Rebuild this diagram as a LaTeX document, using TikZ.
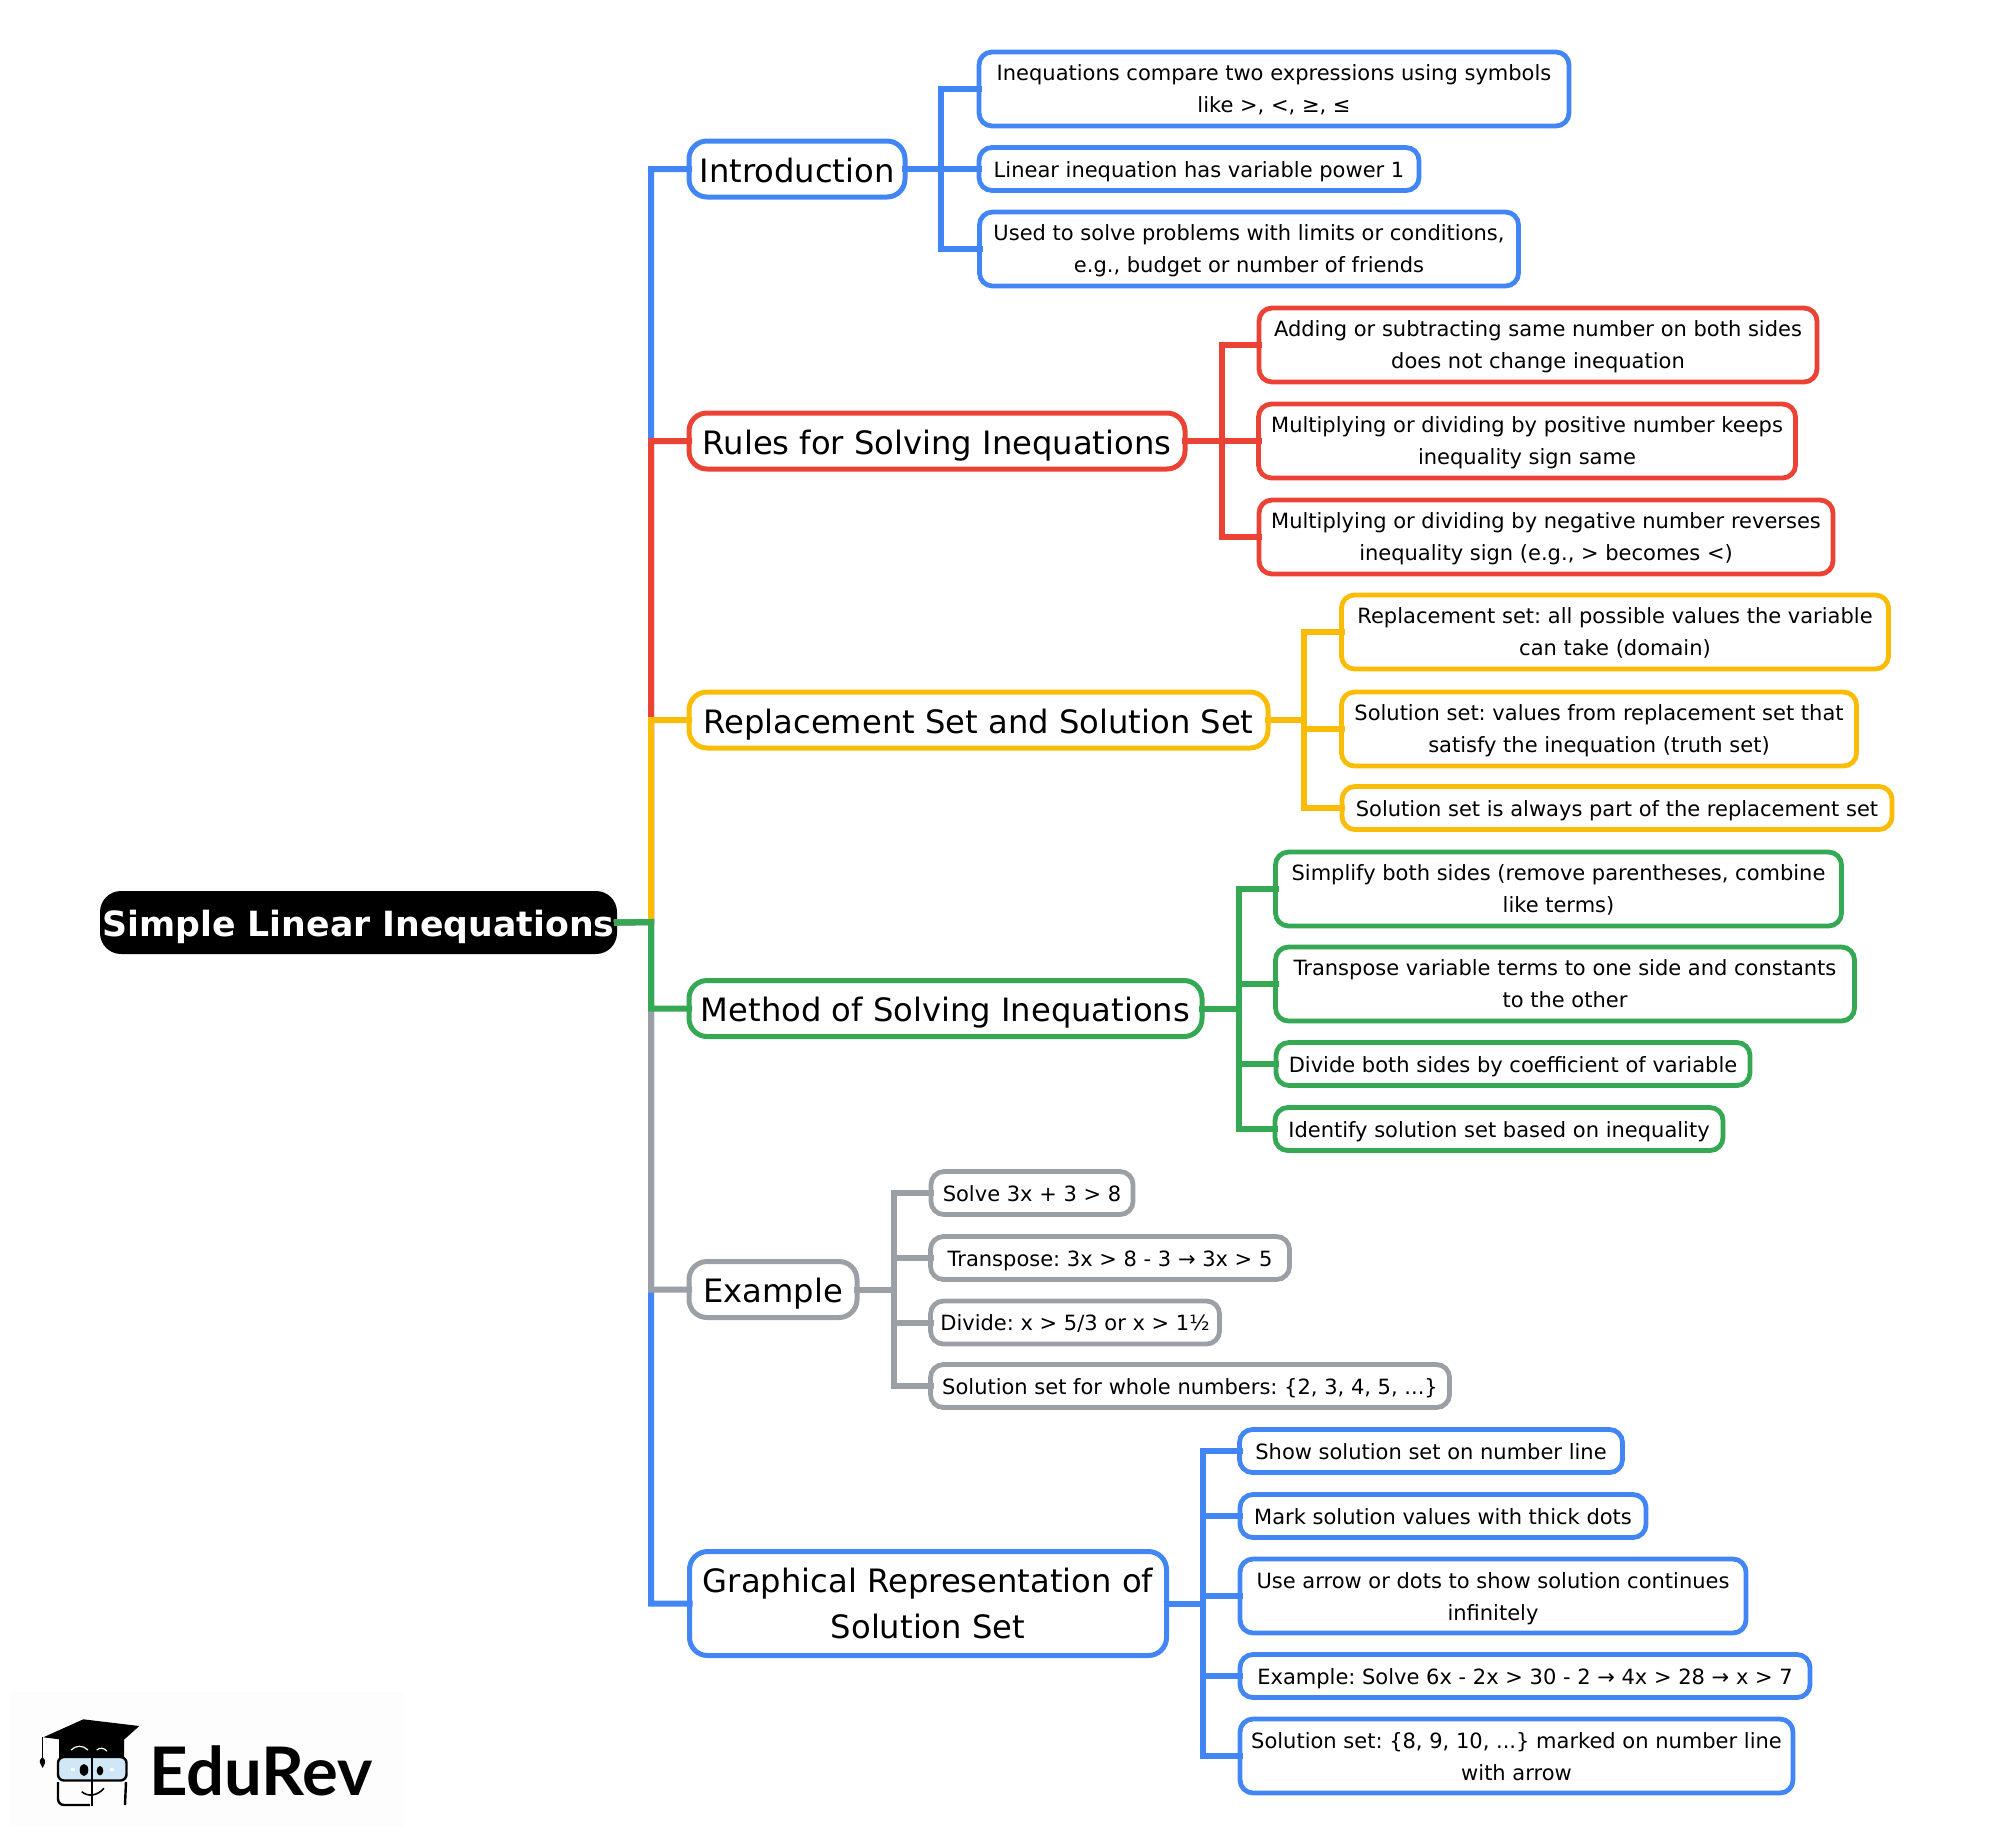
\documentclass[tikz,border=0pt]{standalone}
\usepackage{fontspec}
\setmainfont{DejaVu Sans}
\newfontfamily\logofont{Lato}
\usepackage{tikz}
\definecolor{BranchBlue}{HTML}{4285F4}
\definecolor{BranchRed}{HTML}{EA4335}
\definecolor{BranchYellow}{HTML}{FBBC05}
\definecolor{BranchGreen}{HTML}{34A853}
\definecolor{BranchGray}{HTML}{9AA0A6}
\definecolor{LogoGlass}{HTML}{CFE7F6}

\begin{document}
\frenchspacing
\begin{tikzpicture}[
x=1pt,y=-1pt,
RootBox/.style={fill=black,text=white,rounded corners=21pt,inner sep=0pt,outer sep=0pt,align=center,
  minimum width=517pt,minimum height=63pt,text height=27pt,text depth=0pt,font=\fontsize{34.7}{40}\selectfont\bfseries},
MainBase/.style={draw,fill=white,line width=5pt,rounded corners=18pt,inner sep=0pt,outer sep=0pt,align=center,
  minimum height=56pt,text depth=-2pt,font=\fontsize{32.2}{46}\selectfont},
MainBox/.style={MainBase,text depth=0pt,text height=26pt},
LeafBase/.style={draw,fill=white,line width=4.8pt,rounded corners=13pt,inner sep=0pt,outer sep=0pt,align=center,
  text depth=0pt,font=\fontsize{21}{32}\selectfont},
LeafBox/.style={LeafBase,minimum height=43pt,text height=16pt},
LeafTall/.style={LeafBase,minimum height=74pt,text depth=-2.5pt},
Wire/.style={line width=6pt,line join=miter,shorten >=-3pt,shorten <=-3pt}
]
\useasboundingbox (0,0) rectangle (1994,1845);

% centre topic and first level
\node[RootBox] (root) at (358.5,922.5) {Simple Linear Inequations};

\node[MainBox,draw=BranchBlue,minimum width=216pt] (intro) at (797,169) {Introduction};
\node[MainBox,draw=BranchRed,minimum width=496pt] (rules) at (937,441) {Rules for Solving Inequations};
\node[MainBox,draw=BranchYellow,minimum width=579pt] (repl) at (978.5,720) {Replacement Set and Solution Set};
\node[MainBox,draw=BranchGreen,minimum width=513pt] (method) at (945.5,1008.5) {Method of Solving Inequations};
\node[MainBox,draw=BranchGray,minimum width=168pt] (example) at (773,1289.5) {Example};
\node[MainBase,draw=BranchBlue,minimum width=477pt,minimum height=104pt] (graph) at (928,1603.5) {Graphical Representation of\\Solution Set};

% leaves
\node[LeafTall,draw=BranchBlue,minimum width=590pt] (introA) at (1274,89) {Inequations compare two expressions using symbols\\like >, <, ≥, ≤};
\node[LeafBox,draw=BranchBlue,minimum width=440pt] (introB) at (1199,169) {Linear inequation has variable power 1};
\node[LeafTall,draw=BranchBlue,minimum width=539pt] (introC) at (1249,249) {Used to solve problems with limits or conditions,\\e.g., budget or number of friends};

\node[LeafTall,draw=BranchRed,minimum width=558pt] (rulesA) at (1538,345) {Adding or subtracting same number on both sides\\does not change inequation};
\node[LeafTall,draw=BranchRed,minimum width=537pt] (rulesB) at (1527,441) {Multiplying or dividing by positive number keeps\\inequality sign same};
\node[LeafTall,draw=BranchRed,minimum width=574pt] (rulesC) at (1546,537) {Multiplying or dividing by negative number reverses\\inequality sign (e.g., > becomes <)};

\node[LeafTall,draw=BranchYellow,minimum width=547pt] (replA) at (1615,632) {Replacement set: all possible values the variable\\can take (domain)};
\node[LeafTall,draw=BranchYellow,minimum width=515pt] (replB) at (1599,729) {Solution set: values from replacement set that\\satisfy the inequation (truth set)};
\node[LeafBox,draw=BranchYellow,minimum width=550pt] (replC) at (1617,808) {Solution set is always part of the replacement set};

\node[LeafTall,draw=BranchGreen,minimum width=566pt] (methodA) at (1558.5,889) {Simplify both sides (remove parentheses, combine\\like terms)};
\node[LeafTall,draw=BranchGreen,minimum width=579pt] (methodB) at (1565,984) {Transpose variable terms to one side and constants\\to the other};
\node[LeafBox,draw=BranchGreen,minimum width=474pt] (methodC) at (1513,1064) {Divide both sides by coefficient of variable};
\node[LeafBox,draw=BranchGreen,minimum width=448pt] (methodD) at (1499,1129) {Identify solution set based on inequality};

\node[LeafBox,draw=BranchGray,minimum width=202pt] (exampleA) at (1032,1193) {Solve 3x + 3 > 8};
\node[LeafBox,draw=BranchGray,minimum width=359pt] (exampleB) at (1110,1258) {Transpose: 3x > 8 - 3 → 3x > 5};
\node[LeafBox,draw=BranchGray,minimum width=289pt] (exampleC) at (1075,1322.5) {Divide: x > 5/3 or x > 1½};
\node[LeafBox,draw=BranchGray,minimum width=519pt] (exampleD) at (1190,1386) {Solution set for whole numbers: \{2, 3, 4, 5, ...\}};

\node[LeafBox,draw=BranchBlue,minimum width=383pt] (graphA) at (1431,1451) {Show solution set on number line};
\node[LeafBox,draw=BranchBlue,minimum width=406pt] (graphB) at (1443,1516) {Mark solution values with thick dots};
\node[LeafTall,draw=BranchBlue,minimum width=506pt] (graphC) at (1493,1596) {Use arrow or dots to show solution continues\\infinitely};
\node[LeafBox,draw=BranchBlue,minimum width=570pt] (graphD) at (1525,1676) {Example: Solve 6x - 2x > 30 - 2 → 4x > 28 → x > 7};
\node[LeafTall,draw=BranchBlue,minimum width=553pt] (graphE) at (1516.5,1756) {Solution set: \{8, 9, 10, ...\} marked on number line\\with arrow};

\coordinate (spine) at (651,922);
\coordinate (introBus) at (941,169);
\coordinate (rulesBus) at (1222,441);
\coordinate (replBus) at (1303.5,720);
\coordinate (methodBus) at (1238.5,1008.5);
\coordinate (exampleBus) at (894,1289.5);
\coordinate (graphBus) at (1203,1603.5);

% later branches lie over earlier ones on the spine
\draw[Wire,BranchBlue] (root.east) -- (spine) |- (intro.west);
\draw[Wire,BranchRed] (root.east) -- (spine) |- (rules.west);
\draw[Wire,BranchYellow] (root.east) -- (spine) |- (repl.west);
\draw[Wire,BranchBlue] (root.east) -- (spine) |- (graph.west);
\draw[Wire,BranchGray] (root.east) -- (spine) |- (example.west);
\draw[Wire,BranchGreen] (root.east) -- (spine) |- (method.west);

\draw[Wire,BranchBlue] (intro.east) -- (introBus) |- (introA.west);
\draw[Wire,BranchBlue] (intro.east) -- (introBus) |- (introB.west);
\draw[Wire,BranchBlue] (intro.east) -- (introBus) |- (introC.west);

\draw[Wire,BranchRed] (rules.east) -- (rulesBus) |- (rulesA.west);
\draw[Wire,BranchRed] (rules.east) -- (rulesBus) |- (rulesB.west);
\draw[Wire,BranchRed] (rules.east) -- (rulesBus) |- (rulesC.west);

\draw[Wire,BranchYellow] (repl.east) -- (replBus) |- (replA.west);
\draw[Wire,BranchYellow] (repl.east) -- (replBus) |- (replB.west);
\draw[Wire,BranchYellow] (repl.east) -- (replBus) |- (replC.west);

\draw[Wire,BranchGreen] (method.east) -- (methodBus) |- (methodA.west);
\draw[Wire,BranchGreen] (method.east) -- (methodBus) |- (methodB.west);
\draw[Wire,BranchGreen] (method.east) -- (methodBus) |- (methodC.west);
\draw[Wire,BranchGreen] (method.east) -- (methodBus) |- (methodD.west);

\draw[Wire,BranchGray] (example.east) -- (exampleBus) |- (exampleA.west);
\draw[Wire,BranchGray] (example.east) -- (exampleBus) |- (exampleB.west);
\draw[Wire,BranchGray] (example.east) -- (exampleBus) |- (exampleC.west);
\draw[Wire,BranchGray] (example.east) -- (exampleBus) |- (exampleD.west);

\draw[Wire,BranchBlue] (graph.east) -- (graphBus) |- (graphA.west);
\draw[Wire,BranchBlue] (graph.east) -- (graphBus) |- (graphB.west);
\draw[Wire,BranchBlue] (graph.east) -- (graphBus) |- (graphC.west);
\draw[Wire,BranchBlue] (graph.east) -- (graphBus) |- (graphD.west);
\draw[Wire,BranchBlue] (graph.east) -- (graphBus) |- (graphE.west);

% logo
\fill[black!0.6] (10,1692) rectangle (405,1827);
\node[anchor=base west,inner sep=0pt,font=\fontsize{67}{72}\selectfont\logofont\bfseries] (brand) at (149,1795) {EduRev};
\fill[black] (59,1739) -- (59,1758) -- (124,1758) -- (124,1740) -- cycle;
\fill[black] (43.3,1737.3) -- (83.3,1719.3) -- (139.3,1726) -- (113.3,1749.3) -- (59.3,1739.3) -- cycle;
\draw[white,line width=1.2pt] (71,1750) .. controls (76,1745) and (83,1745) .. (88,1750);
\draw[white,line width=1.2pt] (96.7,1750) .. controls (100,1747) and (104,1748) .. (107,1751);
\draw[black,line width=1.5pt] (42.3,1737) -- (42.3,1758);
\fill[black] (42.5,1757) .. controls (40,1759) and (39,1761) .. (40,1763) -- (42.7,1768) -- (45,1763) .. controls (45.5,1761) and (45,1759) .. (42.5,1757) -- cycle;
\draw[black,fill=LogoGlass,line width=2.4pt,rounded corners=6pt] (58,1757) rectangle (126.5,1780.5);
\draw[black,line width=2.4pt,rounded corners=6pt] (58,1782) -- (58,1805) -- (90,1805);
\draw[black,line width=2.4pt,rounded corners=6pt] (126,1782) -- (125,1805);
\draw[black,line width=2.5pt] (92,1756) -- (92,1806);
\fill[white] (71,1767.5) rectangle (75,1771);
\fill[white] (109.5,1767.5) rectangle (113.5,1771);
\fill[black] (84,1770) ellipse (4.3 and 6);
\fill[black] (100,1770.7) ellipse (3.3 and 4.7);
\draw[black,line width=1.6pt] (81.7,1791.7) .. controls (88,1797) and (97,1796) .. (104,1788.3);
\end{tikzpicture}
\end{document}
